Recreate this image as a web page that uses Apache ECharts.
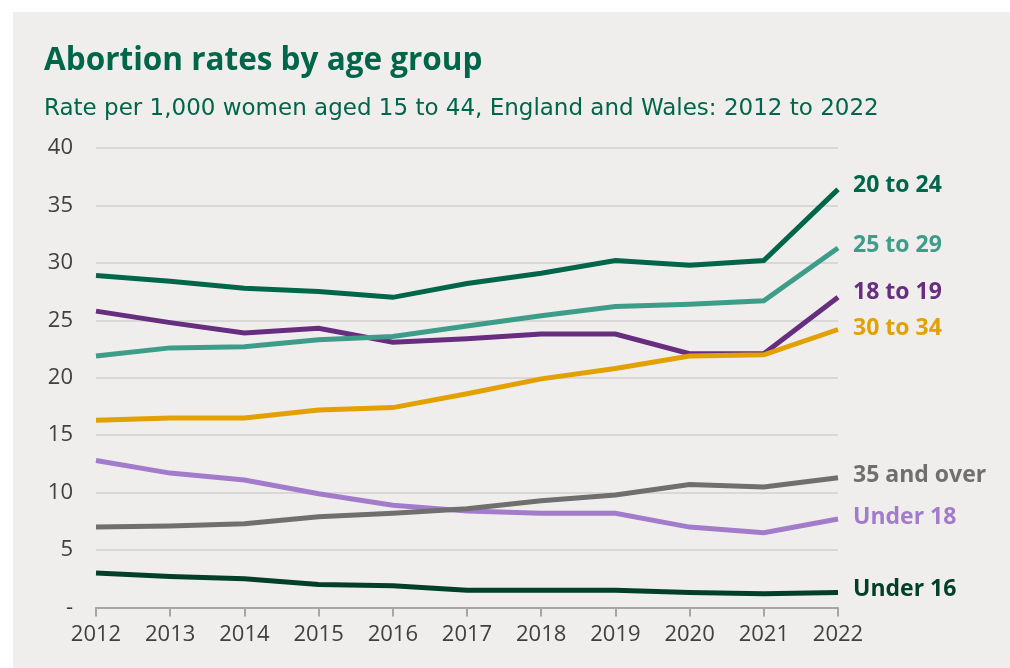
<!DOCTYPE html>
<html>
<head>
<meta charset="utf-8">
<style>
  html, body { margin: 0; padding: 0; background: #ffffff; }
  #chart { width: 1010px; height: 668px; }
</style>
<script src="https://cdn.jsdelivr.net/npm/echarts@6/dist/echarts.min.js"></script>
</head>
<body>
<div id="chart"></div>
<script>
// Years on the x axis
const years = ['2012', '2013', '2014', '2015', '2016', '2017', '2018', '2019', '2020', '2021', '2022'];

// Abortion rate per 1,000 women, by age group
const under16   = [3.0, 2.7, 2.5, 2.0, 1.9, 1.5, 1.5, 1.5, 1.3, 1.2, 1.3];
const under18   = [12.8, 11.7, 11.1, 9.9, 8.9, 8.4, 8.2, 8.2, 7.0, 6.5, 7.7];
const age18to19 = [25.8, 24.8, 23.9, 24.3, 23.1, 23.4, 23.8, 23.8, 22.1, 22.1, 27.0];
const age20to24 = [28.9, 28.4, 27.8, 27.5, 27.0, 28.2, 29.1, 30.2, 29.8, 30.2, 36.4];
const age25to29 = [21.9, 22.6, 22.7, 23.3, 23.6, 24.5, 25.4, 26.2, 26.4, 26.7, 31.3];
const age30to34 = [16.3, 16.5, 16.5, 17.2, 17.4, 18.6, 19.9, 20.8, 21.9, 22.0, 24.2];
const age35plus = [7.0, 7.1, 7.3, 7.9, 8.2, 8.6, 9.3, 9.8, 10.7, 10.5, 11.3];

// Y axis tick values
const yTicks = [0, 5, 10, 15, 20, 25, 30, 35, 40];

const groups = [
  { name: 'Under 16',    data: under16,   color: '#00402a', dy: -3 },
  { name: 'Under 18',    data: under18,   color: '#a27ccb', dy: -2 },
  { name: '18 to 19',    data: age18to19, color: '#672d7e', dy: -5 },
  { name: '20 to 24',    data: age20to24, color: '#00664a', dy: -4 },
  { name: '25 to 29',    data: age25to29, color: '#3d9d88', dy: -2 },
  { name: '30 to 34',    data: age30to34, color: '#e2a100', dy: -1 },
  { name: '35 and over', data: age35plus, color: '#6f6f6f', dy: -2 }
];

const chart = echarts.init(document.getElementById('chart'));

chart.setOption({
  backgroundColor: '#ffffff',
  animation: false,
  graphic: [{
    type: 'rect',
    left: 13, top: 12,
    shape: { width: 997, height: 656 },
    style: { fill: '#efeeec' },
    z: -10
  }],
  title: [{
    text: 'Abortion rates by age group',
    left: 39, top: 39,
    textStyle: { fontFamily: 'Open Sans', fontWeight: 'bold', fontSize: 31.5, color: '#00664a', lineHeight: 35 }
  }, {
    text: 'Rate per 1,000 women aged 15 to 44, England and Wales: 2012 to 2022',
    left: 39, top: 90,
    textStyle: { fontFamily: 'DejaVu Sans', fontWeight: 'normal', fontSize: 23, color: '#00664a', lineHeight: 28 }
  }],
  grid: { left: 96, right: 172, top: 148, bottom: 60.5 },
  xAxis: {
    type: 'category',
    data: years,
    boundaryGap: false,
    axisLine: { lineStyle: { color: '#a6a6a6', width: 2 } },
    axisTick: { show: true, length: 9, lineStyle: { color: '#a6a6a6', width: 2 } },
    axisLabel: { fontFamily: 'Open Sans', fontSize: 22, color: '#404040', margin: 16 },
    splitLine: { show: false }
  },
  yAxis: {
    type: 'value',
    min: yTicks[0],
    max: yTicks[yTicks.length - 1],
    interval: 5,
    axisLine: { show: false },
    axisTick: { show: false },
    axisLabel: {
      fontFamily: 'Open Sans', fontSize: 22, color: '#404040', margin: 23,
      formatter: v => (v === 0 ? '-' : String(v))
    },
    splitLine: { lineStyle: { color: '#d9d8d6', width: 2 } }
  },
  series: groups.map(g => ({
    name: g.name,
    type: 'line',
    data: g.data,
    showSymbol: false,
    symbol: 'none',
    lineStyle: { color: g.color, width: 5, cap: 'butt', join: 'miter' },
    itemStyle: { color: g.color },
    endLabel: {
      show: true,
      formatter: g.name,
      distance: 15,
      offset: [0, g.dy],
      fontFamily: 'Open Sans',
      fontWeight: 'bold',
      fontSize: 23,
      color: g.color
    }
  }))
});
</script>
</body>
</html>
